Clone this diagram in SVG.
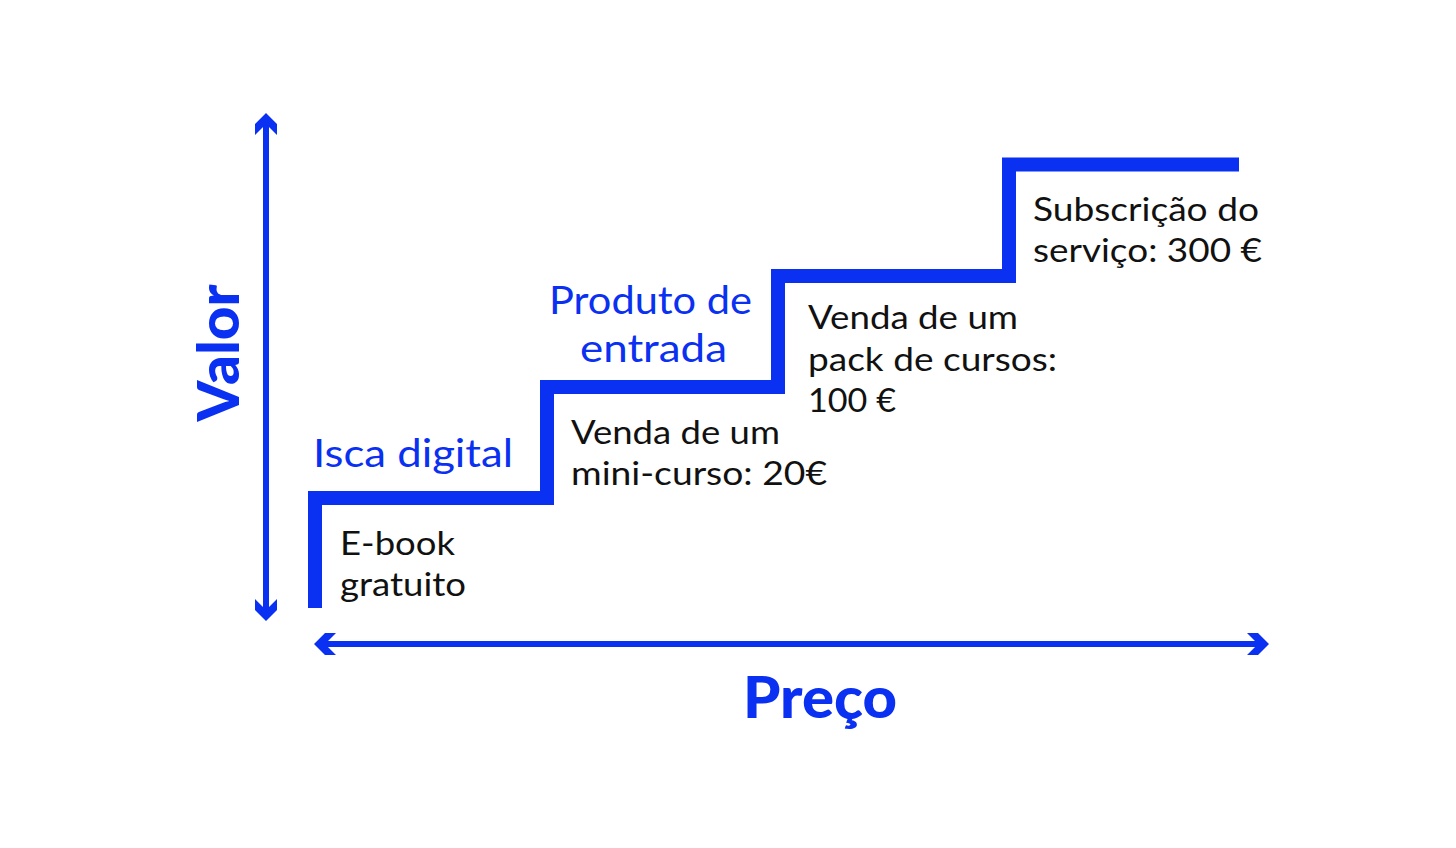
<svg xmlns="http://www.w3.org/2000/svg" width="1456" height="848" viewBox="0 0 1456 848">
<style>
.blue{fill:#0a30f2;font-family:Lato,"Noto Sans",sans-serif}
.lbl{font-size:38px}
.ttl{font-size:57px;font-weight:900}
.txt{fill:#111;font-family:Lato,"Noto Sans",sans-serif;font-size:32px}
.ax{stroke:#0a30f2;stroke-width:6;fill:none;stroke-linecap:butt}
.head{fill:#0a30f2}
.stair{stroke:#0a30f2;stroke-width:14;fill:none;stroke-linejoin:miter;stroke-linecap:butt}
</style>
<rect width="1456" height="848" fill="#fff"/>
<g id="connectors">
  <path class="ax" d="M266,118 V616"/>
  <polygon class="head" points="266,113 277,124 277,135 266,124 255,135 255,124"/>
  <polygon class="head" points="266,621 277,610 277,599 266,610 255,599 255,610"/>
  <path class="ax" d="M319,644 H1264"/>
  <polygon class="head" points="314,644 325,633 336,633 325,644 336,655 325,655"/>
  <polygon class="head" points="1269,644 1258,633 1247,633 1258,644 1247,655 1258,655"/>
  <path class="stair" d="M315,608 V498 H547 V387 H778 V276 H1009 V164.5 H1239"/>
</g>
<g id="axis-valor"><text class="blue ttl" text-anchor="middle" transform="translate(239,353) rotate(-90)" textLength="137" lengthAdjust="spacingAndGlyphs">Valor</text></g>
<g id="axis-preco"><text class="blue ttl" x="820" y="718" text-anchor="middle" textLength="154" lengthAdjust="spacingAndGlyphs">Preço</text></g>
<g id="step1">
  <text class="blue lbl" x="313" y="467" textLength="200" lengthAdjust="spacingAndGlyphs">Isca digital</text>
  <text class="txt" x="340" y="555" textLength="115" lengthAdjust="spacingAndGlyphs">E-book</text>
  <text class="txt" x="340" y="596" textLength="126" lengthAdjust="spacingAndGlyphs">gratuito</text>
</g>
<g id="step2">
  <text class="blue lbl" x="549" y="314" textLength="203" lengthAdjust="spacingAndGlyphs">Produto de</text>
  <text class="blue lbl" x="580" y="362" textLength="147" lengthAdjust="spacingAndGlyphs">entrada</text>
  <text class="txt" x="571" y="444" textLength="209" lengthAdjust="spacingAndGlyphs">Venda de um</text>
  <text class="txt" x="571" y="485" textLength="256" lengthAdjust="spacingAndGlyphs">mini-curso: 20€</text>
</g>
<g id="step3">
  <text class="txt" x="808" y="329" textLength="210" lengthAdjust="spacingAndGlyphs">Venda de um</text>
  <text class="txt" x="808" y="371" textLength="249" lengthAdjust="spacingAndGlyphs">pack de cursos:</text>
  <text class="txt" x="808" y="412" textLength="88" lengthAdjust="spacingAndGlyphs">100 €</text>
</g>
<g id="step4">
  <text class="txt" x="1033" y="221" textLength="226" lengthAdjust="spacingAndGlyphs">Subscrição do</text>
  <text class="txt" x="1033" y="262" textLength="229" lengthAdjust="spacingAndGlyphs">serviço: 300 €</text>
</g>
</svg>
